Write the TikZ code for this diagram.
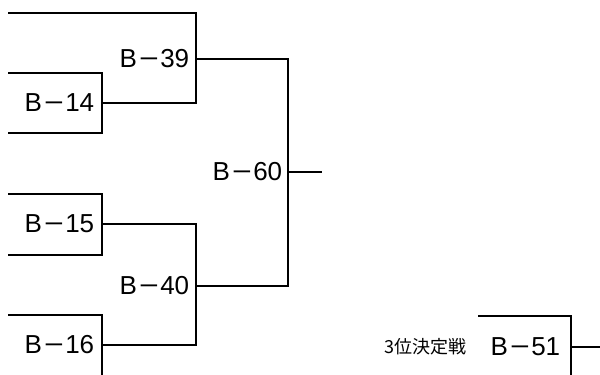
\documentclass[tikz,border=0pt]{standalone}
\usepackage{fontspec}
\setmainfont{Liberation Sans}
\newfontfamily\jpfont{Noto Sans CJK JP}
\usetikzlibrary{positioning}
\newcommand{\bn}[1]{B\kern2pt\scalebox{1.3}[1]{−}\kern1.5pt#1}
\begin{document}
\begin{tikzpicture}[x=1pt,y=-1pt,line width=1.6pt,
  team/.style={inner sep=0pt,font=\fontsize{26}{26}\selectfont},
  note/.style={inner sep=0pt,font=\jpfont\fontsize{18}{18}\selectfont}]
\useasboundingbox (0,0) rectangle (600,375);
% junctions of the bracket
\coordinate (j39) at (196,59);
\coordinate (j14) at (102,103);
\coordinate (j60) at (288,172);
\coordinate (j15) at (102,224);
\coordinate (j40) at (196,286);
\coordinate (j16) at (102,345);
\coordinate (j51) at (571,347);
% lines
\draw (8,13) -| (j39) |- (j14);
\draw (8,73) -| (j14) |- (8,133);
\draw (j39) -| (j60) |- (j40);
\draw (j60) -- ++(34,0);
\draw (8,194) -| (j15) |- (8,255);
\draw (j15) -| (j40) |- (j16);
\draw (8,315) -| (j16) -- (102,375);
\draw (478,316) -| (j51) -- (571,375);
\draw (j51) -- (600,347);
% labels
\node[team,left=6pt of j39] (b39) {\bn{39}};
\node[team,left=7pt of j14] (b14) {\bn{14}};
\node[team,left=5pt of j60] (b60) {\bn{60}};
\node[team,left=7pt of j15] (b15) {\bn{15}};
\node[team,left=6pt of j40] (b40) {\bn{40}};
\node[team,left=7pt of j16] (b16) {\bn{16}};
\node[team,left=10pt of j51] (b51) {\bn{51}};
\node[note,left=23pt of b51] (third) {3位決定戦};
\end{tikzpicture}
\end{document}
